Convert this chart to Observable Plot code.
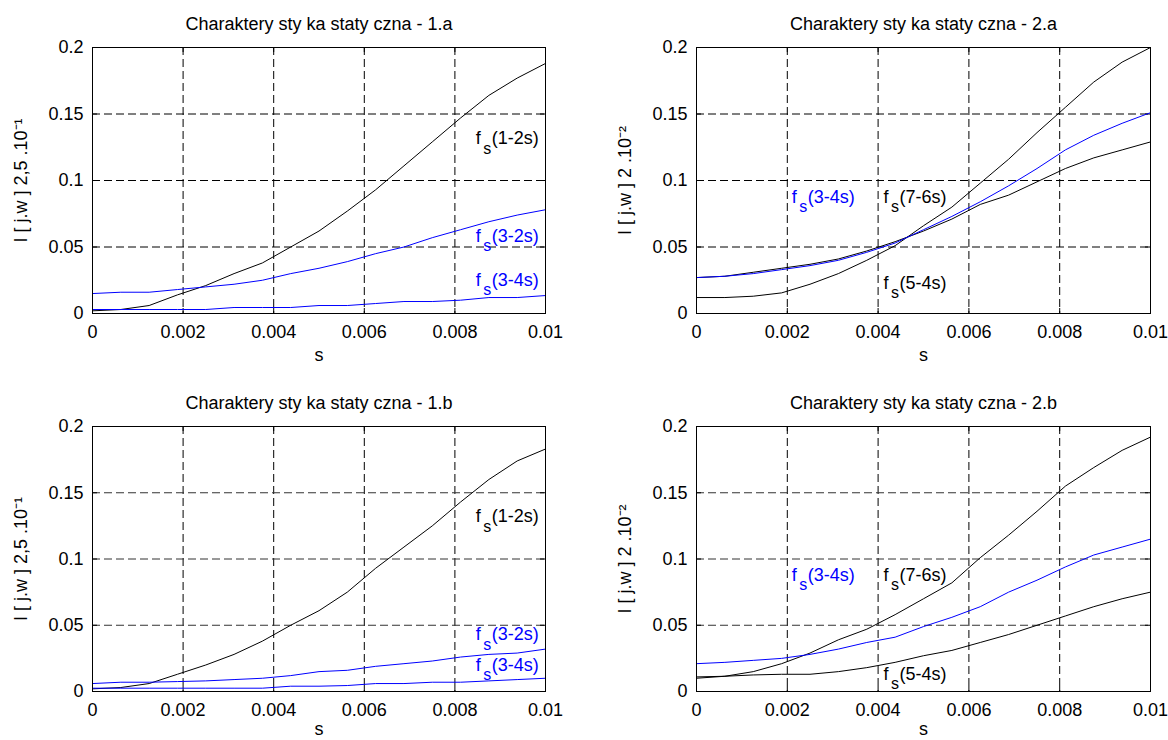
<!DOCTYPE html>
<html><head><meta charset="utf-8">
<script src="https://cdn.jsdelivr.net/npm/d3@7"></script>
<script src="https://cdn.jsdelivr.net/npm/@observablehq/plot@0.6"></script>
<style>
html,body{margin:0;padding:0;background:#fff;overflow:hidden;width:1168px;height:740px;}
#root{position:relative;width:1168px;height:740px;}
.cell{position:absolute;width:584px;height:370px;}
.cell svg{overflow:visible;}
</style></head><body><div id="root"></div>
<script>
// sample points (s)
const s = [0,0.000625,0.00125,0.001875,0.0025,0.003125,0.00375,0.004375,0.005,0.005625,0.00625,0.006875,0.0075,0.008125,0.00875,0.009375,0.01];

// panel 1.a
const p1a_f12 = [0.002,0.003,0.006,0.014,0.021,0.030,0.038,0.050,0.062,0.077,0.093,0.111,0.129,0.147,0.164,0.177,0.188];
const p1a_f32 = [0.015,0.016,0.016,0.018,0.020,0.022,0.025,0.030,0.034,0.039,0.045,0.050,0.057,0.063,0.069,0.074,0.078];
const p1a_f34 = [0.003,0.003,0.003,0.003,0.003,0.0045,0.0045,0.0045,0.006,0.006,0.0075,0.009,0.009,0.010,0.012,0.012,0.0135];

// panel 2.a
const p2a_blk1 = [0.012,0.012,0.013,0.0155,0.022,0.030,0.040,0.051,0.066,0.080,0.098,0.116,0.136,0.155,0.174,0.189,0.200];
const p2a_blk2 = [0.027,0.028,0.031,0.034,0.037,0.041,0.047,0.054,0.062,0.071,0.082,0.089,0.099,0.109,0.117,0.123,0.129];
const p2a_f34  = [0.027,0.028,0.030,0.033,0.036,0.040,0.046,0.053,0.063,0.073,0.084,0.096,0.109,0.123,0.134,0.143,0.151];

// panel 1.b
const p1b_f12 = [0.002,0.003,0.006,0.013,0.020,0.028,0.038,0.050,0.061,0.075,0.093,0.109,0.125,0.143,0.160,0.174,0.183];
const p1b_f32 = [0.006,0.007,0.007,0.0075,0.008,0.009,0.010,0.012,0.015,0.016,0.019,0.021,0.023,0.026,0.028,0.029,0.032];
const p1b_f34 = [0.0025,0.0025,0.0025,0.0025,0.0025,0.0025,0.0025,0.004,0.004,0.0045,0.006,0.006,0.007,0.007,0.008,0.009,0.010];

// panel 2.b
const p2b_f76 = [0.010,0.0115,0.015,0.021,0.029,0.039,0.047,0.058,0.070,0.082,0.101,0.118,0.136,0.155,0.169,0.182,0.192];
const p2b_f34 = [0.021,0.022,0.0235,0.025,0.028,0.032,0.037,0.041,0.049,0.056,0.064,0.075,0.084,0.094,0.103,0.109,0.115];
const p2b_f54 = [0.011,0.0115,0.0125,0.013,0.013,0.015,0.018,0.022,0.027,0.031,0.037,0.043,0.050,0.057,0.064,0.070,0.075];

// ticks
const xTicks = [0,0.002,0.004,0.006,0.008,0.01];
const xTickLabels = ["0","0.002","0.004","0.006","0.008","0.01"];
const yTicks = [0,0.05,0.1,0.15,0.2];
const yTickLabels = ["0","0.05","0.1","0.15","0.2"];

// texts
const titles = ["Charaktery sty ka staty czna - 1.a","Charaktery sty ka staty czna - 2.a","Charaktery sty ka staty czna - 1.b","Charaktery sty ka staty czna - 2.b"];
const yLabels = ["I [ j.w ] 2,5 .10⁻¹","I [ j.w ] 2 .10⁻²","I [ j.w ] 2,5 .10⁻¹","I [ j.w ] 2 .10⁻²"];
const xLabel = "s";

// curve annotations (f with subscript s + argument)
const lab1aText = ["(1-2s)","(3-2s)","(3-4s)"];
const lab1aX = [0.00846,0.00846,0.00846];
const lab1aY = [0.1316,0.058,0.025];
const lab2aText = ["(3-4s)","(7-6s)","(5-4s)"];
const lab2aX = [0.0021,0.00412,0.00412];
const lab2aY = [0.0877,0.0877,0.023];
const lab1bText = ["(1-2s)","(3-2s)","(3-4s)"];
const lab1bX = [0.00846,0.00846,0.00846];
const lab1bY = [0.132,0.0429,0.0198];
const lab2bText = ["(3-4s)","(7-6s)","(5-4s)"];
const lab2bX = [0.0021,0.00412,0.00412];
const lab2bY = [0.0877,0.0877,0.013];

const BLK = "#000000", BLU = "#0000ff";
const FONT = "'Liberation Sans', Arial, sans-serif";

const panels = [
  {left:0, top:0, mL:92, mR:39, mT:47, mB:57, title:titles[0], ylabel:yLabels[0], hGrid:"#000", sDy:42,
   series:[[p1a_f12,BLK],[p1a_f32,BLU],[p1a_f34,BLU]],
   labels:{t:lab1aText,x:lab1aX,y:lab1aY,c:[BLK,BLU,BLU]}},
  {left:584, top:0, mL:112, mR:18, mT:47, mB:57, title:titles[1], ylabel:yLabels[1], hGrid:"#000", sDy:42,
   series:[[p2a_blk1,BLK],[p2a_blk2,BLK],[p2a_f34,BLU]],
   labels:{t:lab2aText,x:lab2aX,y:lab2aY,c:[BLU,BLK,BLK]}},
  {left:0, top:370, mL:92, mR:39, mT:56, mB:49, title:titles[2], ylabel:yLabels[2], hGrid:"#333", sDy:38,
   series:[[p1b_f12,BLK],[p1b_f32,BLU],[p1b_f34,BLU]],
   labels:{t:lab1bText,x:lab1bX,y:lab1bY,c:[BLK,BLU,BLU]}},
  {left:584, top:370, mL:112, mR:18, mT:56, mB:49, title:titles[3], ylabel:yLabels[3], hGrid:"#333", sDy:38,
   series:[[p2b_f76,BLK],[p2b_f34,BLU],[p2b_f54,BLK]],
   labels:{t:lab2bText,x:lab2bX,y:lab2bY,c:[BLU,BLK,BLK]}}
];

function labelMarks(L) {
  const out = [];
  L.t.forEach((t, i) => {
    const row = [{x: L.x[i], y: L.y[i]}];
    const common = {x:"x", y:"y", textAnchor:"start", lineAnchor:"middle", fill:L.c[i], fontFamily:FONT};
    out.push(Plot.text(row, {...common, text: () => "f", fontSize:18}));
    out.push(Plot.text(row, {...common, text: () => "s", fontSize:16, dx:7.5, dy:10}));
    out.push(Plot.text(row, {...common, text: () => t, fontSize:18, dx:16}));
  });
  return out;
}

function panel(cfg) {
  const W = 584, H = 370;
  const fw = W - cfg.mL - cfg.mR, fh = H - cfg.mT - cfg.mB;
  const marks = [
    Plot.gridX(xTicks.slice(1, -1), {stroke:"#000", strokeOpacity:1, strokeWidth:1, strokeDasharray:"8,4"}),
    Plot.gridY(yTicks.slice(1, -1), {stroke:cfg.hGrid, strokeOpacity:1, strokeWidth:1, strokeDasharray:"8,4"}),
    Plot.tickX(xTicks, {x:d => d, insetTop:fh - 5, stroke:"#000"}),
    Plot.tickX(xTicks, {x:d => d, insetBottom:fh - 5, stroke:"#000"}),
    Plot.tickY(yTicks, {y:d => d, insetRight:fw - 5, stroke:"#000"}),
    Plot.tickY(yTicks, {y:d => d, insetLeft:fw - 5, stroke:"#000"}),
    ...cfg.series.map(([vals, col]) => Plot.line(s.map((x, i) => ({x, y: vals[i]})), {x:"x", y:"y", stroke:col, strokeWidth:1})),
    Plot.frame({stroke:"#000", strokeWidth:1}),
    Plot.axisX(xTicks, {anchor:"bottom", tickSize:0, tickPadding:12, tickFormat:d => xTickLabels[xTicks.indexOf(d)], label:null, fontSize:18, fill:"#000"}),
    Plot.axisY(yTicks, {anchor:"left", tickSize:0, tickPadding:9, tickFormat:d => yTickLabels[yTicks.indexOf(d)], label:null, fontSize:18, fill:"#000"}),
    Plot.text([cfg.title], {frameAnchor:"top", dy:-23, text:d => d, fontSize:18, lineAnchor:"middle", fill:"#000"}),
    Plot.text([xLabel], {frameAnchor:"bottom", dy:cfg.sDy, text:d => d, fontSize:18, lineAnchor:"middle", fill:"#000"}),
    Plot.text([cfg.ylabel], {frameAnchor:"left", dx:-71, rotate:-90, text:d => d, fontSize:18, lineAnchor:"middle", textAnchor:"middle", fill:"#000"}),
    ...labelMarks(cfg.labels)
  ];
  return Plot.plot({
    width:W, height:H,
    marginLeft:cfg.mL, marginRight:cfg.mR, marginTop:cfg.mT, marginBottom:cfg.mB,
    x:{domain:[0, 0.01]}, y:{domain:[0, 0.2]},
    style:{fontFamily:FONT, fontSize:"18px", background:"#fff", color:"#000"},
    marks
  });
}

const root = document.getElementById("root");
panels.forEach(cfg => {
  const div = document.createElement("div");
  div.className = "cell";
  div.style.left = cfg.left + "px";
  div.style.top = cfg.top + "px";
  div.appendChild(panel(cfg));
  root.appendChild(div);
});
</script>
</body></html>
